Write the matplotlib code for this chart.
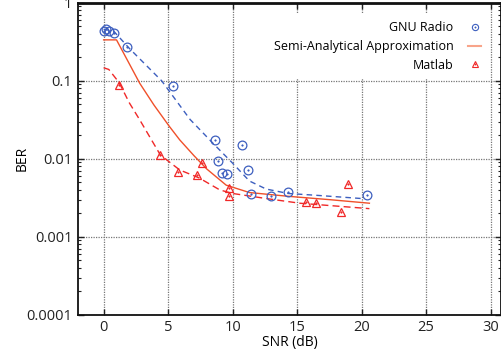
import numpy as np
import matplotlib.pyplot as plt
from matplotlib.lines import Line2D
from matplotlib.ticker import LogLocator, NullFormatter, FixedLocator
from matplotlib.legend_handler import HandlerTuple

# measured points
gnu_snr = [0.0, 0.2, 0.4, 0.8, 1.8, 5.4, 8.6, 8.85, 9.2, 9.6, 10.7, 11.2, 11.45, 13.0, 14.3, 20.4]
gnu_ber = [0.43, 0.46, 0.44, 0.41, 0.27, 0.087, 0.0174, 0.0095, 0.0066, 0.0064,
           0.0151, 0.0071, 0.0035, 0.0033, 0.0038, 0.0034]

matlab_snr = [1.2, 4.4, 5.8, 7.2, 7.65, 9.7, 9.7, 15.7, 16.5, 18.4, 18.95]
matlab_ber = [0.089, 0.0112, 0.0068, 0.0062, 0.0088, 0.0042, 0.0033, 0.0028, 0.0027, 0.0021, 0.0048]

# fitted curves
gnu_fit_snr = [0.0, 0.8, 2.0, 4.5, 6.7, 8.5, 10.0, 11.3, 12.6, 14.3, 16.6, 20.0]
gnu_fit_ber = [0.46, 0.43, 0.26, 0.1, 0.032, 0.0157, 0.0088, 0.0052, 0.0041, 0.0036, 0.0034, 0.0031]

semi_snr = [0.0, 1.0, 2.8, 3.9, 5.1, 5.9, 7.0, 8.0, 9.5, 11.3, 14.4, 17.5, 20.6]
semi_ber = [0.335, 0.335, 0.093, 0.049, 0.026, 0.0175, 0.011, 0.0074, 0.0046, 0.0037, 0.0033, 0.0030, 0.0027]

matlab_fit_snr = [0.0, 0.4, 1.2, 2.0, 2.8, 3.6, 4.4, 5.9, 7.4, 9.0, 10.0, 12.6, 15.2, 20.6]
matlab_fit_ber = [0.147, 0.14, 0.095, 0.052, 0.0316, 0.0188, 0.0112, 0.0072, 0.0057, 0.0040,
                  0.0036, 0.0031, 0.0027, 0.0023]

x_ticks = [0, 5, 10, 15, 20, 25, 30]
y_ticks = [1e-4, 1e-3, 1e-2, 1e-1, 1]
y_ticklabels = ["0.0001", "0.001", "0.01", "0.1", "1"]

BLUE = "#3d5fbf"
RED = "#f02828"
ORANGE = "#f0502a"

plt.rcParams['font.family'] = ['Open Sans', 'DejaVu Sans']
plt.rcParams['font.size'] = 10

fig = plt.figure(figsize=(5.02, 3.53), dpi=100)
ax = fig.add_axes([0.155, 0.108, 0.843, 0.884])

ax.plot(gnu_fit_snr, gnu_fit_ber, color=BLUE, lw=1.0, ls=(0, (4, 3)))
ax.plot(semi_snr, semi_ber, color=ORANGE, lw=1.0)
ax.plot(matlab_fit_snr, matlab_fit_ber, color=RED, lw=1.0, ls=(0, (5, 3)))

ax.plot(gnu_snr, gnu_ber, ls='none', marker='o', ms=6.3, mfc='none', mec=BLUE, mew=0.9)
ax.plot(gnu_snr, gnu_ber, ls='none', marker='o', ms=1.2, mfc=BLUE, mec=BLUE, mew=0.3)
ax.plot(matlab_snr, matlab_ber, ls='none', marker='^', ms=6.3, mfc='none', mec=RED, mew=0.9)
ax.plot(matlab_snr, matlab_ber, ls='none', marker='o', ms=1.2, mfc=RED, mec=RED, mew=0.3)

# smaller legend symbols
leg_gnu = (Line2D([], [], ls='none', marker='o', ms=4.5, mfc='none', mec=BLUE, mew=0.8),
           Line2D([], [], ls='none', marker='o', ms=1.0, mfc=BLUE, mec=BLUE, mew=0.3))
leg_semi = Line2D([], [], color="#f8a48a", lw=1.5)
leg_mat = (Line2D([], [], ls='none', marker='^', ms=4.5, mfc='none', mec=RED, mew=0.8),
           Line2D([], [], ls='none', marker='o', ms=1.0, mfc=RED, mec=RED, mew=0.3))

ax.set_yscale('log')
ax.set_xlim(-2, 30.8)
ax.set_ylim(1e-4, 1)
ax.xaxis.set_major_locator(FixedLocator(x_ticks))
ax.set_yticks(y_ticks)
ax.set_yticklabels(y_ticklabels)
ax.yaxis.set_minor_locator(LogLocator(base=10, subs=np.arange(2, 10), numticks=20))
ax.yaxis.set_minor_formatter(NullFormatter())

ax.tick_params(which='both', direction='in', top=True, right=True, colors='#222222', labelsize=10.5)
ax.tick_params(which='major', length=4, width=1.0, pad=4)
ax.tick_params(which='minor', length=2.5, width=0.8)
ax.grid(True, which='major', ls=(0, (1, 1)), color='#777777', lw=0.9)

for side in ['left', 'bottom', 'right']:
    ax.spines[side].set_linewidth(1.3)
    ax.spines[side].set_color('#111111')
ax.spines['top'].set_linewidth(2.0)
ax.spines['top'].set_color('#111111')

ax.set_xlabel("SNR (dB)", fontsize=10, labelpad=0)
ax.set_ylabel("BER", fontsize=10, labelpad=-2)

leg = ax.legend([leg_gnu, leg_semi, leg_mat],
                ["GNU Radio", "Semi-Analytical Approximation", "Matlab"],
                handler_map={tuple: HandlerTuple(ndivide=1, pad=0)},
                loc='upper right', bbox_to_anchor=(0.985, 0.985), markerfirst=False,
                frameon=True, fancybox=False, edgecolor='none', facecolor='white',
                framealpha=1.0, handlelength=1.0, handletextpad=1.2, labelspacing=0.45,
                fontsize=9, borderpad=0.6)
for t in leg.get_texts():
    t.set_ha('right')

fig.savefig("out.png", dpi=100)
